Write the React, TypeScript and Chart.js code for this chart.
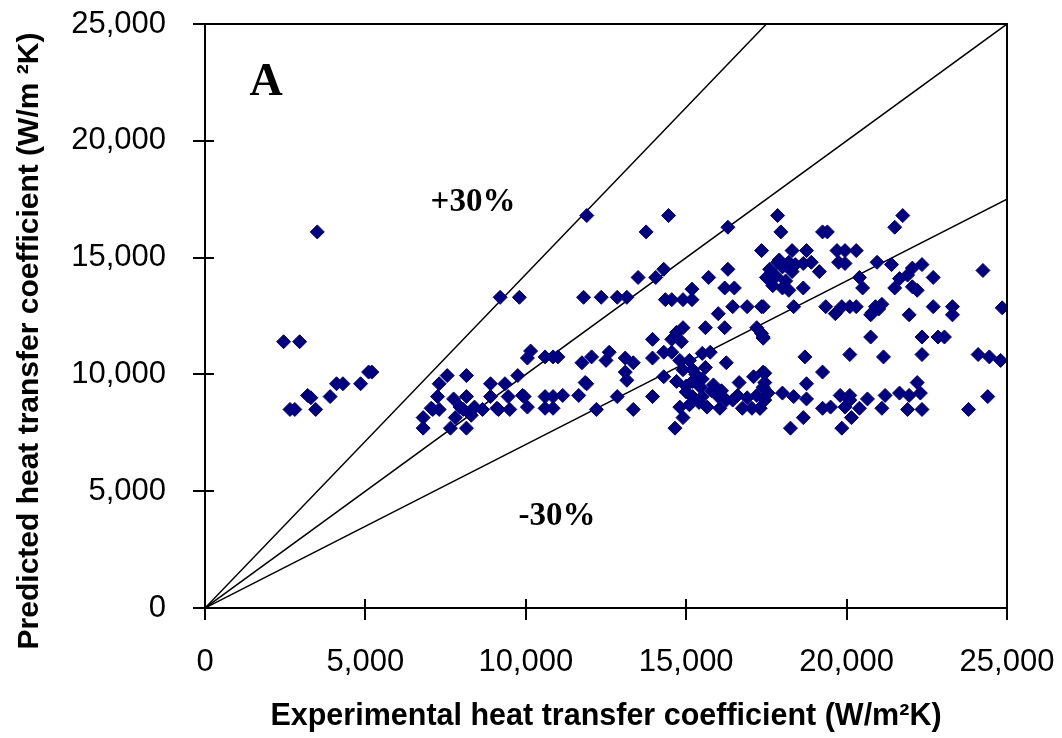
import React, { useEffect, useRef } from "react";
import { Chart, registerables } from "chart.js";

Chart.register(...registerables);

// Axis ticks (W/m²K)
const xTickValues = [0, 5000, 10000, 15000, 20000, 25000];
const yTickValues = [0, 5000, 10000, 15000, 20000, 25000];

// Experimental (x) and predicted (y) heat transfer coefficients
const expX = [
  3500, 2450, 2950, 2650, 2800, 3200, 3300, 3450, 3900, 4100, 4300, 4850, 5100, 5200,
  9200, 9800, 10150, 10050, 7550, 8150, 7300, 8900, 9350, 9750, 7250, 7750, 8150, 8900, 9450, 9950,
  7100, 7300, 8050, 8350, 8650, 9150, 9500, 10050, 6800, 6800, 7650, 8150, 7800, 7950, 8300, 7050, 8400, 9100,
  11900, 14450, 13750, 16300, 17350, 13500, 14050, 14300, 15700, 16300, 17500, 11800, 12350, 12850, 13150,
  14350, 14550, 14900, 15180, 15180, 16200, 16500, 16450, 16900, 17350, 16000, 14900, 15600, 16200, 17200,
  17400, 13950, 14550, 14850, 14700, 14300, 14550, 13950, 14800, 15100, 15500, 15750, 16250, 10600, 10850,
  11000, 11750, 12050, 12500, 12600, 13100, 13350, 13100, 13150, 11850, 14300, 15200, 9900, 10600, 10600,
  10850, 10850, 11150, 11650, 11900, 12200, 12850, 13350, 13950, 14650, 14900, 14800, 16050, 16450, 16750,
  17050, 17300, 17100, 17450, 17400, 16650, 16000, 16250, 15500, 15650, 15200, 15000, 15450, 15200, 14700,
  14900, 15500, 15850, 15300, 15600, 15000, 15800, 15400, 15100, 16100, 16600, 16900, 17200,
  17850, 21750, 21500, 17950, 19250, 19400, 18300, 18750, 19700, 19950, 20300, 19750, 19950, 18900, 18650,
  19150, 17850, 18200, 17600, 17800, 18000, 18100, 18300, 17700, 18000, 18200, 17900, 18400, 17550, 18650,
  17400, 18350, 20950, 21400, 20400, 20500, 21500, 21650, 21900, 22050, 22350, 22050, 22200, 22700, 24250,
  19350, 19650, 19850, 20100, 20300, 20800, 20900, 21100, 20750, 21950, 22700, 23300, 23300, 24850, 17350,
  17400, 20750, 22350, 22850, 23050, 18700, 20100, 21150, 22350, 24100, 24450, 24800, 17400, 19250, 18750,
  17450, 17550, 18000, 18350, 18750, 19800, 20100, 20650, 21200, 21650, 21950, 22200, 22300, 19250, 19500,
  19950, 20100, 20150, 20400, 21100, 21900, 22350, 23800, 24400, 18650, 18250, 19850, 17300, 17450, 21000
];
const predY = [
  16100, 11400, 11400, 8500, 8500, 9100, 9000, 8500, 9050, 9600, 9600, 9600, 10100, 10100,
  13300, 13300, 11000, 10700, 9950, 9950, 9600, 9600, 9600, 9950, 9050, 8950, 9050, 9050, 9050, 9050,
  8500, 8500, 8500, 8500, 8500, 8500, 8500, 8600, 8150, 7700, 7700, 7700, 8150, 8600, 8250, 8550, 8600, 8550,
  16800, 16800, 16100, 16300, 15300, 14150, 14150, 14500, 14150, 14500, 14150, 13300, 13300, 13300, 13300,
  13200, 13200, 13200, 13200, 13650, 13700, 13700, 12900, 12900, 12900, 12600, 12000, 12000, 12000, 12000,
  11600, 11500, 11500, 11400, 11800, 10950, 10950, 10700, 10600, 10600, 10900, 10950, 10500, 10750, 10750,
  10750, 10500, 10750, 10600, 10950, 10700, 10500, 10100, 9750, 9650, 9900, 10200, 9100, 9050, 8550,
  9050, 8550, 9100, 9100, 9600, 8500, 9050, 8500, 9050, 7700, 8150, 8600, 8550, 8900, 8550,
  8550, 8550, 9900, 10050, 9450, 9650, 9050, 8900, 9050, 8600, 9050, 9250, 9450, 9700, 9700,
  10200, 9800, 9550, 10000, 10300, 9500, 9300, 8800, 8700, 9300, 9100, 9000, 9100,
  16800, 16800, 16300, 16100, 16100, 16100, 15300, 15300, 15300, 15300, 15300, 14800, 14750, 14800, 14750,
  14400, 14800, 14800, 14500, 14200, 14600, 14000, 14400, 13800, 13700, 13600, 14900, 14700, 14100, 13700,
  12900, 12900, 14800, 14700, 14150, 13700, 13700, 14100, 14250, 14550, 14700, 13750, 13600, 14150, 14450,
  12900, 12600, 12900, 12900, 12900, 12650, 12900, 13000, 12550, 12550, 12900, 12900, 12550, 12850, 11750,
  11550, 11600, 11600, 11600, 11600, 10750, 10850, 10750, 10850, 10850, 10750, 10600, 10100, 10100, 9600,
  9650, 9200, 9200, 9050, 8950, 9100, 9100, 8950, 9100, 9200, 9100, 9650, 9200, 8550, 8600,
  8600, 8900, 8150, 8550, 8550, 8500, 8500, 8500, 9050, 8150, 7700, 7700, 8550, 8900, 12800
];

// ±30 % band: predicted = experimental / 0.7 and predicted = 0.7 × experimental
const bandUpperX = [0, 17500];
const bandUpperY = [0, 25000];
const parityX = [0, 25000];
const parityY = [0, 25000];
const bandLowerX = [0, 25000];
const bandLowerY = [0, 17500];

const toPts = (xs: number[], ys: number[]) => xs.map((x, i) => ({ x, y: ys[i] }));

const SANS = "'Liberation Sans', Arial, sans-serif";
const SERIF = "'Liberation Serif', 'Times New Roman', serif";

const framePlugin = {
  id: "frameAndNotes",
  afterDraw(chart: any) {
    const { ctx, chartArea } = chart;
    const { left, right, top, bottom } = chartArea;
    const xs = chart.scales.x;
    const ys = chart.scales.y;
    ctx.save();
    ctx.strokeStyle = "#000";
    ctx.lineWidth = 2;
    ctx.beginPath();
    ctx.moveTo(left, top);
    ctx.lineTo(right, top);
    ctx.lineTo(right, bottom);
    xs.ticks.forEach((t: any) => {
      const px = Math.round(xs.getPixelForValue(t.value));
      ctx.moveTo(px, bottom - 9);
      ctx.lineTo(px, bottom + 12);
    });
    ys.ticks.forEach((t: any) => {
      const py = Math.round(ys.getPixelForValue(t.value));
      ctx.moveTo(left - 12, py);
      ctx.lineTo(left + 9, py);
    });
    ctx.stroke();

    ctx.fillStyle = "#000";
    ctx.textAlign = "center";
    ctx.textBaseline = "middle";
    ctx.font = `bold 46px ${SERIF}`;
    ctx.fillText("A", 266, 83);
    ctx.font = `bold 33px ${SERIF}`;
    ctx.fillText("+30%", 473, 202);
    ctx.fillText("-30%", 557, 516);
    ctx.restore();
  },
};

export default function App() {
  const canvasRef = useRef<HTMLCanvasElement | null>(null);

  useEffect(() => {
    if (!canvasRef.current) return;
    const lineStyle = {
      type: "line" as const,
      borderColor: "#000",
      borderWidth: 1.5,
      pointRadius: 0,
      showLine: true,
      fill: false,
      order: 2,
    };
    const chart = new Chart(canvasRef.current, {
      type: "scatter",
      data: {
        datasets: [
          {
            label: "data",
            data: toPts(expX, predY),
            pointStyle: "rectRot",
            pointRadius: 7,
            backgroundColor: "#000080",
            borderColor: "#000080",
            borderWidth: 1,
            order: 0,
          },
          { ...lineStyle, label: "+30%", data: toPts(bandUpperX, bandUpperY) },
          { ...lineStyle, label: "0%", data: toPts(parityX, parityY) },
          { ...lineStyle, label: "-30%", data: toPts(bandLowerX, bandLowerY) },
        ] as any,
      },
      options: {
        animation: false,
        responsive: true,
        maintainAspectRatio: false,
        layout: { padding: { left: 0, top: 24, right: 55, bottom: 0 } },
        plugins: { legend: { display: false }, tooltip: { enabled: false }, title: { display: false } },
        scales: {
          x: {
            type: "linear",
            min: 0,
            max: 25000,
            afterBuildTicks: (s: any) => {
              s.ticks = xTickValues.map((v) => ({ value: v }));
            },
            afterFit: (s: any) => {
              s.height = 130;
              s.paddingLeft = 0;
              s.paddingRight = 0;
            },
            grid: { display: false, drawTicks: false },
            border: { display: true, color: "#000", width: 2 },
            ticks: {
              padding: 36,
              color: "#000",
              font: { family: SANS, size: 31 },
              maxRotation: 0,
              callback: (v: any) => Number(v).toLocaleString("en-US"),
            },
            title: {
              display: true,
              text: "Experimental heat transfer coefficient (W/m²K)",
              color: "#000",
              font: { family: SANS, size: 30.5, weight: "bold" },
              padding: { top: 0, bottom: 3 },
            },
          },
          y: {
            type: "linear",
            min: 0,
            max: 25000,
            afterBuildTicks: (s: any) => {
              s.ticks = yTickValues.map((v) => ({ value: v }));
            },
            afterFit: (s: any) => {
              s.width = 205;
              s.paddingTop = 0;
              s.paddingBottom = 0;
            },
            grid: { display: false, drawTicks: false },
            border: { display: true, color: "#000", width: 2 },
            ticks: {
              padding: 39,
              color: "#000",
              font: { family: SANS, size: 31 },
              callback: (v: any) => Number(v).toLocaleString("en-US"),
            },
            title: {
              display: true,
              text: "Predicted heat transfer coefficient (W/m ²K)      ",
              color: "#000",
              font: { family: SANS, size: 30, weight: "bold" },
              padding: { top: 12, bottom: 0 },
            },
          },
        },
      },
      plugins: [framePlugin],
    });
    return () => chart.destroy();
  }, []);

  return (
    <div style={{ position: "fixed", left: 0, top: 0, width: 1062, height: 738, background: "#fff" }}>
      <canvas ref={canvasRef} />
    </div>
  );
}
